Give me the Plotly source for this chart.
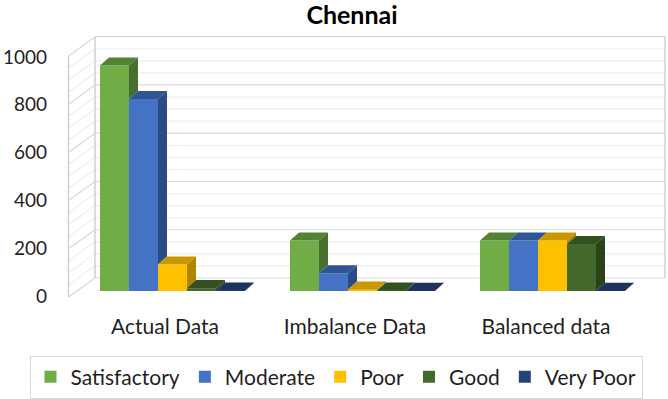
import plotly.graph_objects as go

# ---------------- data ----------------
categories = ["Actual Data", "Imbalance Data", "Balanced data"]
series_names = ["Satisfactory", "Moderate", "Poor", "Good", "Very Poor"]
satisfactory = [940, 210, 210]
moderate = [800, 74, 210]
poor = [110, 6, 210]
good = [12, 2, 196]
very_poor = [2, 1, 1]
y_ticks = [0, 200, 400, 600, 800, 1000]

series_values = [satisfactory, moderate, poor, good, very_poor]
front_colors = ["#70AD47", "#4472C4", "#FFC000", "#43682B", "#264478"]
top_colors = ["#548235", "#2F5597", "#C99700", "#33511F", "#1D345C"]
side_colors = ["#46702B", "#294B86", "#B08500", "#2A4319", "#182C4E"]

# ---------------- geometry of the (pseudo) 3-D frame ----------------
W, H = 668, 399
ML, MR, MT, MB = 48, 0, 30, 99
X0PX, XSCALE = 172.5, 190.0      # pixel of category 0 centre, px per category
Y0PX, YSCALE = 291.0, 0.24       # pixel of value 0 on the bar plane, px per unit


def px2x(p):
    return (p - X0PX) / XSCALE


def py2v(p):
    return (Y0PX - p) / YSCALE


GROUP = 145.0 / XSCALE            # width of a cluster of 5 bars
BW = GROUP / len(series_names)
DX = 9.0 / XSCALE                 # depth offset (x)
DY = 8.0 / YSCALE                 # depth offset (value units)

fig = go.Figure()

# front faces as real bars
for name, vals, col in zip(series_names, series_values, front_colors):
    fig.add_trace(go.Bar(
        x=list(range(len(categories))), y=vals, name=name,
        marker=dict(color=col, line=dict(width=0)),
        hoverinfo="y+name",
    ))

# depth faces (top and right side) computed from the values
for ci in range(len(categories)):
    for k in range(len(series_names)):
        v = series_values[k][ci]
        v_next = series_values[k + 1][ci] if k + 1 < len(series_names) else 0
        l = ci - GROUP / 2 + k * BW
        r = l + BW
        # top face
        if k + 1 < len(series_names) and v_next > v:
            if v_next >= v + DY:
                xs = [l, r, r, l + DX, l]
                ys = [v, v, v + DY, v + DY, v]
            else:
                xm = r + DX * (v_next - v) / DY
                xs = [l, r, r, xm, r + DX, l + DX, l]
                ys = [v, v, v_next, v_next, v + DY, v + DY, v]
        else:
            xs = [l, r, r + DX, l + DX, l]
            ys = [v, v, v + DY, v + DY, v]
        fig.add_trace(go.Scatter(x=xs, y=ys, fill="toself", mode="lines",
                                 line=dict(width=0), fillcolor=top_colors[k],
                                 showlegend=False, hoverinfo="skip"))
        # side face (only the part above the next bar)
        if v_next < v:
            xs = [r, r, r + DX, r + DX, r]
            ys = [v_next, v, v + DY, v_next + DY, v_next]
            fig.add_trace(go.Scatter(x=xs, y=ys, fill="toself", mode="lines",
                                     line=dict(width=0), fillcolor=side_colors[k],
                                     showlegend=False, hoverinfo="skip"))

# walls and gridlines (decoration of the 3-D frame)
shapes = []
BACK_L, BACK_R, BACK_0, BACK_S = 95.0, 665.0, 278.0, 0.2413
FRONT_X, FRONT_0, FRONT_S = 68.5, 297.0, 0.241
for g in range(0, 1001, 50):
    major = g % 200 == 0
    col = "#D9D9D9" if major else "#EEEEEE"
    yb = BACK_0 - g * BACK_S
    yf = FRONT_0 - g * FRONT_S
    shapes.append(dict(type="line", layer="below", xref="x", yref="y",
                       x0=px2x(BACK_L), x1=px2x(BACK_R), y0=py2v(yb), y1=py2v(yb),
                       line=dict(color=col, width=1.2)))
    shapes.append(dict(type="line", layer="below", xref="x", yref="y",
                       x0=px2x(FRONT_X), x1=px2x(BACK_L), y0=py2v(yf), y1=py2v(yb),
                       line=dict(color=col, width=1.2)))
edge = dict(color="#D0D0D0", width=1.5)
top_b = BACK_0 - 1000 * BACK_S
top_f = FRONT_0 - 1000 * FRONT_S
for (xa, ya, xb, yb_) in [
    (BACK_L, BACK_0, BACK_L, top_b),
    (BACK_R, BACK_0, BACK_R, top_b),
    (FRONT_X, FRONT_0, FRONT_X, top_f),
]:
    shapes.append(dict(type="line", layer="below", xref="x", yref="y",
                       x0=px2x(xa), x1=px2x(xb), y0=py2v(ya), y1=py2v(yb_),
                       line=edge))

# tick positions: labels sit on the front edge of the frame
tickvals_y = [py2v(296.0 - t * 0.239) for t in y_ticks]
tickvals_x = [px2x(p) for p in (165.0, 355.0, 546.0)]

plot_left, plot_right = ML, W - MR
plot_top, plot_bottom = MT, H - MB
plot_h = plot_bottom - plot_top

FONT = "Lato, Carlito, Calibri, sans-serif"
fig.update_layout(
    width=W, height=H,
    margin=dict(l=ML, r=MR, t=MT, b=MB, pad=0),
    paper_bgcolor="white", plot_bgcolor="white",
    barmode="group", bargap=1 - GROUP, bargroupgap=0,
    font=dict(family=FONT, size=21, color="#1F1F1F"),
    title=dict(text="<b>Chennai</b>", x=352 / W, xref="container", xanchor="center",
               y=1 - 15 / H, yref="container", yanchor="middle",
               font=dict(family=FONT, size=25, color="#000000")),
    xaxis=dict(range=[px2x(plot_left), px2x(plot_right)], showgrid=False, zeroline=False,
               showline=False, ticks="", tickvals=tickvals_x, ticktext=categories,
               ticklabelstandoff=12, tickfont=dict(size=21)),
    yaxis=dict(range=[py2v(plot_bottom), py2v(plot_top)], showgrid=False, zeroline=False,
               showline=False, ticks="", tickvals=tickvals_y,
               ticktext=[str(t) for t in y_ticks], tickfont=dict(size=19)),
    legend=dict(orientation="h", x=(336 - plot_left) / (plot_right - plot_left), xanchor="center",
                y=(plot_bottom - 377) / plot_h, yanchor="middle",
                bordercolor="#D9D9D9", borderwidth=1, bgcolor="white",
                font=dict(size=21), traceorder="normal"),
    shapes=shapes,
    showlegend=True,
)

# remove the default 8px page margin so the figure fills the window exactly
fig.write_html("out.html",
               config={"displayModeBar": False},
               post_script="document.body.style.margin='0';document.body.style.overflow='hidden';")
